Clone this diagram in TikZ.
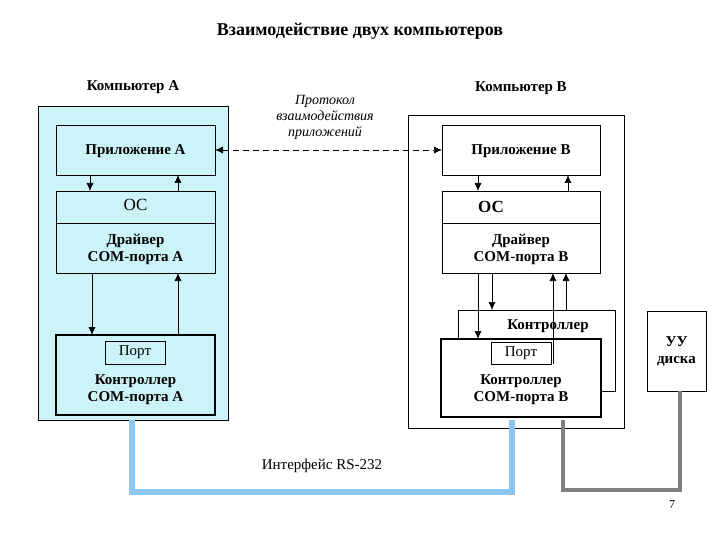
\documentclass[tikz,border=0pt]{standalone}
\usepackage{fontspec}
\setmainfont{Liberation Serif}
\usetikzlibrary{calc}
\definecolor{paleblue}{HTML}{CCF4F8}
\definecolor{linkblue}{HTML}{8EC6F2}
\tikzset{
    Block/.style={inner sep=0pt, align=center, font=\bfseries\fontsize{15}{17}\selectfont},
    Thin/.style={draw=black, semithick},
    Flow/.style={-{Latex[length=8pt,width=7pt]}, semithick},
}
\usetikzlibrary{arrows.meta}
\begin{document}
\begin{tikzpicture}[x=1pt, y=-1pt]
\useasboundingbox (0,0) rectangle (720,540);
\node [font=\bfseries\fontsize{18}{20}\selectfont] (title) at (360,31) {Взаимодействие двух компьютеров};
% computer A
\node [font=\bfseries\fontsize{15}{16}\selectfont] (labA) at (133,87) {Компьютер A};
\draw [thick, fill=paleblue] (38,106) rectangle (228,420);
\draw [thick] (56,125) rectangle (215,175);
\node [Block] (appA) at (135.5,151) {Приложение A};
\draw [Thin] (56,191) rectangle (215,223);
\node [font=\fontsize{17}{18}\selectfont] (osA) at (135.5,205) {ОС};
\draw [Thin] (56,223) rectangle (215,273);
\draw [thick] (56,223) -- (215,223);
\node [Block] (drvA) at (135.5,249) {Драйвер\\COM-порта A};
\draw [ultra thick] (56,335) rectangle (215,415);
\draw [Thin] (105,341) rectangle (165,364);
\node [font=\fontsize{15}{16}\selectfont] (portA) at (135,352.5) {Порт};
\node [Block] (ctlA) at (135.5,390) {Контроллер\\COM-порта A};
\draw [Flow] (90,175) -- (90,191);
\draw [Flow] (178,191) -- (178,175);
\draw [Flow, thick] (92,273) -- (92,335);
\draw [Flow] (178,335) -- (178,273);
% protocol
\node [font=\itshape\fontsize{14}{16}\selectfont, align=center] (proto) at (325,117) {Протокол\\взаимодействия\\приложений};
% computer B
\node [font=\bfseries\fontsize{15}{16}\selectfont] (labB) at (521,88) {Компьютер B};
\draw [thick, fill=white] (408,115) rectangle (624,428);
\draw [thick] (442,125) rectangle (600,175);
\node [Block] (appB) at (521,151) {Приложение B};
\draw [Thin] (442,191) rectangle (600,223);
\node [font=\bfseries\fontsize{17}{18}\selectfont] (osB) at (491,207) {ОС};
\draw [Thin] (442,223) rectangle (600,273);
\draw [thick] (442,223) -- (600,223);
\node [Block] (drvB) at (521,249) {Драйвер\\COM-порта B};
\draw [Thin] (458,310) rectangle (615,391);
\node [Block] (ctlD) at (548,326) {Контроллер};
\draw [ultra thick, fill=white] (441,339) rectangle (601,417);
\draw [Thin] (491,342) rectangle (551,364);
\node [font=\fontsize{15}{16}\selectfont] (portB) at (521,353) {Порт};
\node [Block] (ctlB) at (521,390) {Контроллер\\COM-порта B};
\draw [Flow] (478,175) -- (478,191);
\draw [Flow] (568,191) -- (568,175);
\draw [Flow] (478,273) -- (478,339);
\draw [Flow] (492,273) -- (492,310);
\draw [Flow] (553,364) -- (553,273);
\draw [Flow] (566,310) -- (566,273);
\coordinate (pA) at (215,150);
\coordinate (pB) at (442,150);
\draw [{Latex[length=8pt,width=7pt]}-{Latex[length=8pt,width=7pt]}, dash pattern=on 6pt off 4pt, semithick] (pA) -- (pB);
% disk
\draw [Thin] (647,311) rectangle (706,391);
\node [Block] (uu) at (676.5,351) {УУ\\диска};
% links
\draw [linkblue, line width=6pt] (132,420) -- (132,492) -- (512,492) -- (512,420);
\draw [gray, line width=4pt] (563,420) -- (563,490) -- (680,490) -- (680,391);
\node [font=\fontsize{15}{16}\selectfont] (rs) at (322,466) {Интерфейс RS-232};
\node [font=\fontsize{12}{13}\selectfont] (page) at (672,505) {7};
\end{tikzpicture}
\end{document}
